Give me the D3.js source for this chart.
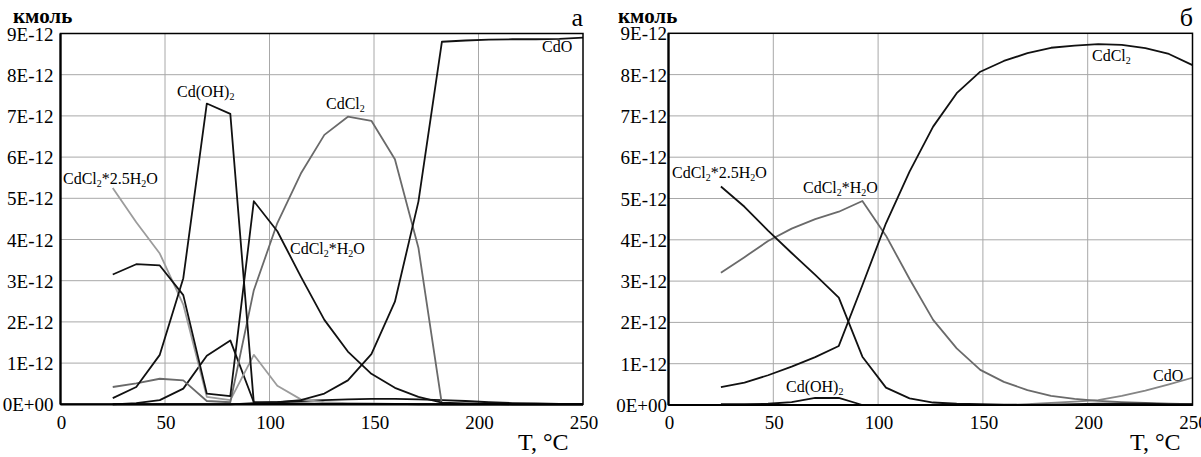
<!DOCTYPE html>
<html>
<head>
<meta charset="utf-8">
<script src="https://cdn.jsdelivr.net/npm/d3@7/dist/d3.min.js"></script>
<style>
  html, body { margin: 0; padding: 0; background: #fff; }
  svg { display: block; }
  text { font-family: "Liberation Serif", "DejaVu Serif", serif; fill: #000; }
</style>
</head>
<body>
<svg id="chart" width="1201" height="457"></svg>
<script>
// ---------- DATA (values in units of 1E-12 kmol) ----------
const temperatures = [25, 36.25, 47.5, 58.75, 70, 81.25, 92.5, 103.75, 115, 126.25, 137.5,
                      148.75, 160, 171.25, 182.5, 193.75, 205, 216.25, 227.5, 238.75, 250];
const xTicks = [0, 50, 100, 150, 200, 250];
const yTicks = [0, 1, 2, 3, 4, 5, 6, 7, 8, 9];
const yTickLabels = ["0E+00", "1E-12", "2E-12", "3E-12", "4E-12", "5E-12", "6E-12", "7E-12", "8E-12", "9E-12"];

// Panel "а"
const a_CdCl2_25H2O = [5.25, 4.42, 3.66, 2.42, 0.18, 0.10, 1.20, 0.45, 0.12, 0.05, 0.03, 0.02, 0.01, 0.01, 0, 0, 0, 0, 0, 0, 0];
const a_CdCl2       = [0.42, 0.51, 0.62, 0.58, 0.08, 0.05, 2.77, 4.40, 5.60, 6.54, 6.98, 6.88, 5.95, 3.80, 0, 0, 0, 0, 0, 0, 0];
const a_CdOH2       = [0.15, 0.42, 1.20, 3.06, 7.30, 7.05, 0.03, 0.02, 0.02, 0.01, 0.01, 0.01, 0.01, 0, 0, 0, 0, 0, 0, 0, 0];
const a_CdCl2_H2O   = [3.15, 3.40, 3.37, 2.65, 0.26, 0.20, 4.93, 4.20, 3.10, 2.05, 1.28, 0.74, 0.40, 0.18, 0.04, 0.02, 0.01, 0, 0, 0, 0];
const a_CdO         = [0, 0, 0, 0, 0, 0, 0.03, 0.05, 0.10, 0.26, 0.58, 1.22, 2.49, 4.92, 8.80, 8.83, 8.85, 8.86, 8.86, 8.87, 8.90];
const a_other       = [0, 0.03, 0.10, 0.38, 1.18, 1.55, 0.05, 0.05, 0.08, 0.10, 0.12, 0.13, 0.13, 0.12, 0.10, 0.08, 0.05, 0.03, 0.02, 0.01, 0.01];

// Panel "б"
const b_CdCl2_25H2O = [5.29, 4.80, 4.22, 3.68, 3.15, 2.60, 1.17, 0.42, 0.16, 0.06, 0.03, 0.02, 0.01, 0, 0, 0, 0, 0, 0, 0, 0];
const b_CdCl2_H2O   = [3.20, 3.58, 3.97, 4.27, 4.50, 4.68, 4.94, 4.10, 3.05, 2.06, 1.37, 0.85, 0.56, 0.36, 0.22, 0.15, 0.10, 0.07, 0.05, 0.03, 0.02];
const b_CdCl2       = [0.43, 0.54, 0.72, 0.93, 1.16, 1.43, 2.90, 4.40, 5.65, 6.74, 7.55, 8.07, 8.33, 8.52, 8.65, 8.70, 8.74, 8.72, 8.64, 8.50, 8.23];
const b_CdOH2       = [0.02, 0.02, 0.03, 0.07, 0.17, 0.17, 0, 0, 0, 0, 0, 0, 0, 0, 0.01, 0.02, 0.03, 0.03, 0.03, 0.02, 0.02];
const b_CdO         = [0, 0, 0, 0, 0, 0, 0, 0, 0, 0, 0, 0, 0, 0.02, 0.05, 0.08, 0.12, 0.22, 0.35, 0.50, 0.66];

// ---------- STYLE / LAYOUT ----------
const BLACK = "#111", GRAY = "#6a6a6a", LIGHT = "#9c9c9c", CDO_B = "#858585";

const panels = [
  {
    x0: 60.5, x1: 583, yTop: 33.5, yBot: 404.3, yLabelGap: 7, letter: "а", letterX: 583, unitX: 13,
    tLabelX: 518,
    series: [
      { v: a_other, c: BLACK },
      { v: a_CdCl2_25H2O, c: LIGHT },
      { v: a_CdCl2, c: GRAY },
      { v: a_CdOH2, c: BLACK },
      { v: a_CdCl2_H2O, c: BLACK },
      { v: a_CdO, c: BLACK }
    ],
    labels: [
      { x: 542, y: 55, parts: [["CdO"]] },
      { x: 326, y: 112, parts: [["CdCl"], ["2", 1]] },
      { x: 177, y: 100, parts: [["Cd(OH)"], ["2", 1]] },
      { x: 63, y: 187, parts: [["CdCl"], ["2", 1], ["*2.5H"], ["2", 1], ["O"]] },
      { x: 290, y: 257, parts: [["CdCl"], ["2", 1], ["*H"], ["2", 1], ["O"]] }
    ]
  },
  {
    x0: 668.5, x1: 1192.5, yTop: 33.3, yBot: 405, yLabelGap: 1.5, letter: "б", letterX: 1193, unitX: 618,
    tLabelX: 1130,
    series: [
      { v: b_CdO, c: CDO_B },
      { v: b_CdCl2_H2O, c: GRAY },
      { v: b_CdOH2, c: BLACK },
      { v: b_CdCl2_25H2O, c: BLACK },
      { v: b_CdCl2, c: BLACK }
    ],
    labels: [
      { x: 1092, y: 64, parts: [["CdCl"], ["2", 1]] },
      { x: 672, y: 181, parts: [["CdCl"], ["2", 1], ["*2.5H"], ["2", 1], ["O"]] },
      { x: 803, y: 196, parts: [["CdCl"], ["2", 1], ["*H"], ["2", 1], ["O"]] },
      { x: 786, y: 395, parts: [["Cd(OH)"], ["2", 1]] },
      { x: 1153, y: 384, parts: [["CdO"]] }
    ]
  }
];

const svg = d3.select("#chart");

panels.forEach(p => {
  const x = d3.scaleLinear().domain([0, 250]).range([p.x0, p.x1]);
  const y = d3.scaleLinear().domain([0, 9]).range([p.yBot, p.yTop]);
  const g = svg.append("g");

  // grid
  g.append("g").selectAll("line").data(xTicks.filter(t => t > 0 && t < 250)).join("line")
    .attr("x1", d => x(d)).attr("x2", d => x(d)).attr("y1", y(0)).attr("y2", y(9))
    .attr("stroke", "#a8a8a8").attr("stroke-width", 1);
  g.append("g").selectAll("line").data(yTicks.filter(t => t > 0 && t < 9)).join("line")
    .attr("x1", x(0)).attr("x2", x(250)).attr("y1", d => y(d)).attr("y2", d => y(d))
    .attr("stroke", "#a8a8a8").attr("stroke-width", 1);

  // series
  const line = d3.line().x((d, i) => x(temperatures[i])).y(d => y(d));
  p.series.forEach(s => {
    g.append("path").datum(s.v).attr("d", line)
      .attr("fill", "none").attr("stroke", s.c).attr("stroke-width", 1.8)
      .attr("stroke-linejoin", "round");
  });

  // frame
  g.append("rect").attr("x", x(0)).attr("y", y(9)).attr("width", x(250) - x(0)).attr("height", y(0) - y(9))
    .attr("fill", "none").attr("stroke", "#000").attr("stroke-width", 1.5);
  g.append("line").attr("x1", x(0)).attr("x2", x(0)).attr("y1", y(9)).attr("y2", y(0))
    .attr("stroke", "#000").attr("stroke-width", 2.2);
  g.append("line").attr("x1", x(0)).attr("x2", x(250)).attr("y1", y(0)).attr("y2", y(0))
    .attr("stroke", "#000").attr("stroke-width", 2.2);

  // y tick labels
  g.append("g").selectAll("text").data(yTicks).join("text")
    .attr("x", x(0) - p.yLabelGap).attr("y", d => y(d) + 7)
    .attr("text-anchor", "end").attr("font-size", 19)
    .text((d, i) => yTickLabels[i]);

  // x tick labels
  g.append("g").selectAll("text").data(xTicks).join("text")
    .attr("x", d => x(d) + 1).attr("y", 429)
    .attr("text-anchor", "middle").attr("font-size", 19)
    .text(d => d);

  // axis titles
  g.append("text").attr("x", p.tLabelX).attr("y", 450).attr("font-size", 24).text("T, °C");
  g.append("text").attr("x", p.unitX).attr("y", 23).attr("font-size", 21).attr("font-weight", "bold").text("кмоль");
  g.append("text").attr("x", p.letterX).attr("y", 26).attr("text-anchor", "end").attr("font-size", 26).text(p.letter);

  // series labels
  p.labels.forEach(l => {
    const t = g.append("text").attr("x", l.x).attr("y", l.y).attr("font-size", 16);
    l.parts.forEach(part => {
      if (part[1]) {
        t.append("tspan").attr("font-size", 10).attr("dy", 3).text(part[0]);
      } else {
        t.append("tspan").attr("dy", t.selectAll("tspan").size() > 0 ? -3 : 0).text(part[0]);
      }
    });
  });
});
</script>
</body>
</html>
